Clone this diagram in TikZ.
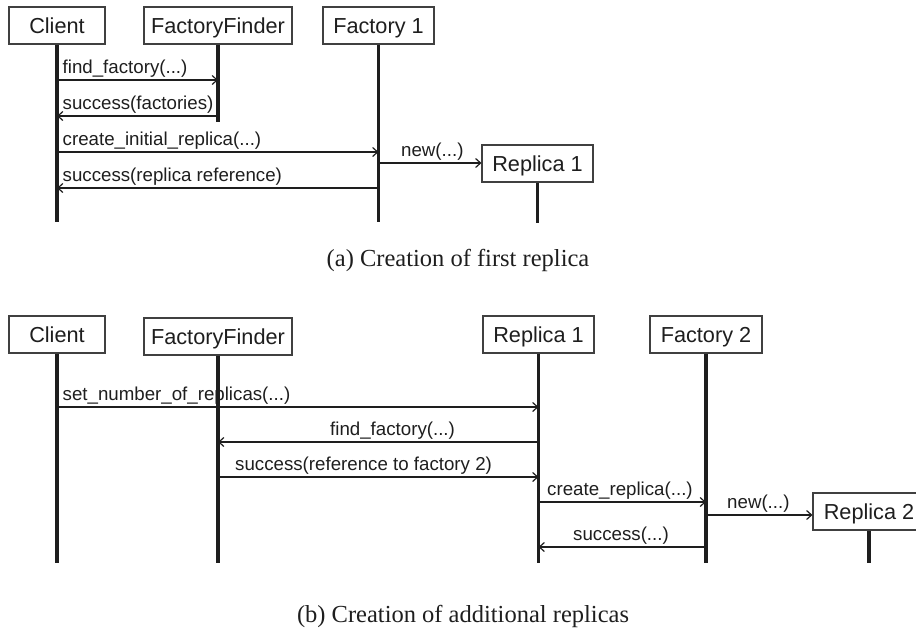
\documentclass[tikz,border=0pt]{standalone}
\usepackage{fontspec}
\setmainfont{Liberation Serif}
\setsansfont{Liberation Sans}
\usetikzlibrary{arrows.meta}
\definecolor{ink}{HTML}{1E1E1E}
\begin{document}
\begin{tikzpicture}[x=1pt,y=-1pt,
  obj/.style={draw=ink!85, line width=1.1pt, fill=white, minimum height=37pt,
    inner sep=0pt, text height=15.5pt, text depth=0pt,
    font=\sffamily\fontsize{21.7}{24}\selectfont, text=ink},
  life/.style={line width=3.2pt, draw=ink},
  msg/.style={line width=1.2pt, draw=ink,
    -{Straight Barb[length=5pt,width=9pt,line width=1.2pt]}},
  lbl/.style={anchor=base west, inner sep=0pt,
    font=\sffamily\fontsize{18.7}{20}\selectfont, text=ink},
  captext/.style={anchor=base, inner sep=0pt,
    font=\fontsize{24.5}{28}\selectfont, text=ink}]
\useasboundingbox (0,0) rectangle (916,630);
\clip (0,0) rectangle (916,630);

% ---------- (a) creation of the first replica ----------
\node[obj, minimum width=96pt]  (ca) at (57,25.5)    {Client};
\node[obj, minimum width=148pt] (fa) at (218,25.5)   {FactoryFinder};
\node[obj, minimum width=111pt] (f1) at (378.5,25.5) {Factory 1};
\node[obj, minimum width=111pt] (r1) at (537.5,163.5) {Replica 1};

\draw[life] (ca.south) -- (ca.south |- 0,222);
\draw[life] (fa.south) -- (fa.south |- 0,122);
\draw[life] (f1.south) -- (f1.south |- 0,222);
\draw[life] (r1.south) -- (r1.south |- 0,223);

\draw[msg] (ca |- 0,80)  -- (fa |- 0,80);
\draw[msg] (fa |- 0,116) -- (ca |- 0,116);
\draw[msg] (ca |- 0,152) -- (f1 |- 0,152);
\draw[msg] (f1 |- 0,163) -- (r1.west |- 0,163);
\draw[msg] (f1 |- 0,188) -- (ca |- 0,188);

\node[lbl] (l1) at (62.5,73.5)  {find\_factory(...)};
\node[lbl] (l2) at (62.5,109.5) {success(factories)};
\node[lbl] (l3) at (62.5,145.5) {create\_initial\_replica(...)};
\node[lbl] (l4) at (401,156.5)  {new(...)};
\node[lbl] (l5) at (62.5,181.5) {success(replica reference)};

\node[captext] (capa) at (458,266.5) {(a) Creation of first replica};

% ---------- (b) creation of additional replicas ----------
\node[obj, minimum width=96pt]  (cb) at (57,334.5)    {Client};
\node[obj, minimum width=148pt] (fb) at (218,336.5)   {FactoryFinder};
\node[obj, minimum width=111pt] (rb) at (538.5,334.5) {Replica 1};
\node[obj, minimum width=112pt] (f2) at (706,334.5)   {Factory 2};
\node[obj, minimum width=112pt] (r2) at (869,511.5)   {Replica 2};

\draw[life] (cb.south) -- (cb.south |- 0,563);
\draw[life] (fb.south) -- (fb.south |- 0,563);
\draw[life] (rb.south) -- (rb.south |- 0,563);
\draw[life] (f2.south) -- (f2.south |- 0,563);
\draw[life] (r2.south) -- (r2.south |- 0,563);

\draw[msg] (cb |- 0,407) -- (rb |- 0,407);
\draw[msg] (rb |- 0,442) -- (fb |- 0,442);
\draw[msg] (fb |- 0,477) -- (rb |- 0,477);
\draw[msg] (rb |- 0,502) -- (f2 |- 0,502);
\draw[msg] (f2 |- 0,515) -- (r2.west |- 0,515);
\draw[msg] (f2 |- 0,547) -- (rb |- 0,547);

\node[lbl] (m1) at (62.5,400.5) {set\_number\_of\_replicas(...)};
\node[lbl] (m2) at (330,435.5)  {find\_factory(...)};
\node[lbl] (m3) at (235,470.5)  {success(reference to factory 2)};
\node[lbl] (m4) at (547,495.5)  {create\_replica(...)};
\node[lbl] (m5) at (727,508.5)  {new(...)};
\node[lbl] (m6) at (573,540.5)  {success(...)};

\node[captext] (capb) at (463,622) {(b) Creation of additional replicas};
\end{tikzpicture}
\end{document}
